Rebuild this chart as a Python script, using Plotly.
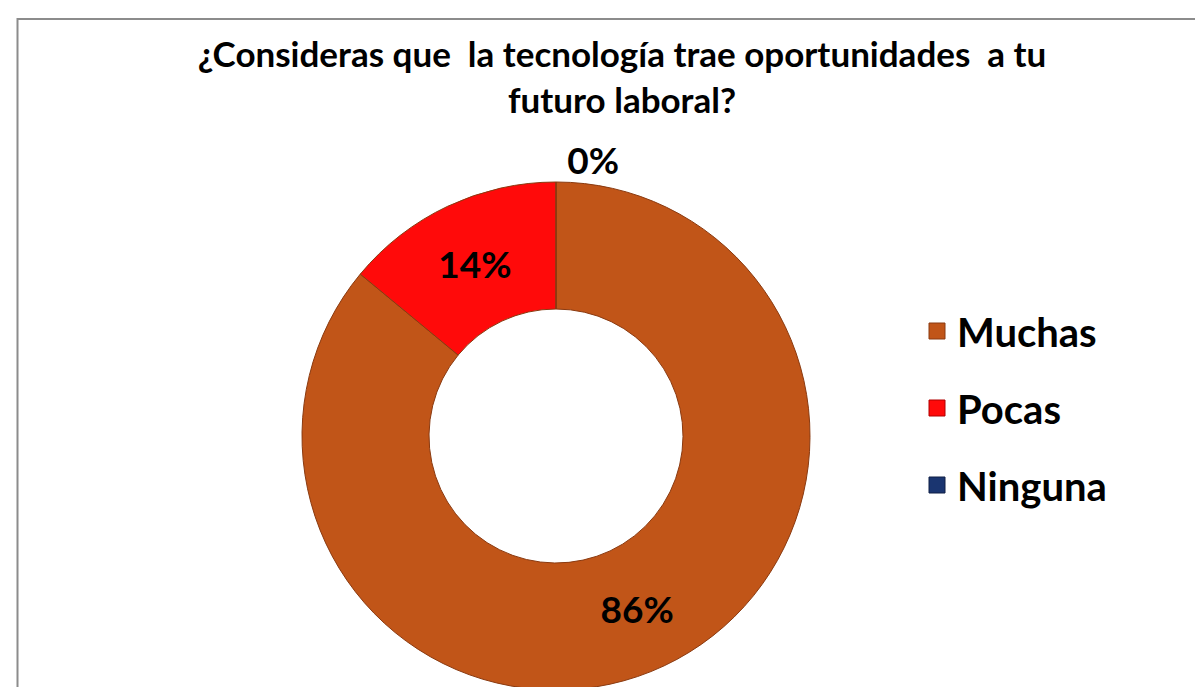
import plotly.graph_objects as go

categories = ["Muchas", "Pocas", "Ninguna"]
values = [86, 14, 0]
colors = ["#C15518", "#FF0A0A", "#1A3570"]
edge_colors = ["#8A3A10", "#B00000", "#0E1F45"]
title_text = "¿Consideras que  la tecnología trae oportunidades  a tu<br>futuro laboral?"

W, H = 1203, 687
cx, cy, r = 548, 428, 254

fig = go.Figure()
fig.add_trace(go.Pie(
    labels=categories,
    values=values,
    hole=0.5,
    sort=False,
    direction="clockwise",
    rotation=0,
    marker=dict(colors=colors, line=dict(color="#8A3A10", width=1)),
    texttemplate="%{percent:.0%}",
    textposition=["inside", "inside", "outside"],
    insidetextorientation="horizontal",
    textfont=dict(family="Lato", size=37, color="black", weight="bold"),
    domain=dict(x=[(cx - r) / W, (cx + r) / W], y=[1 - (cy + r) / H, 1 - (cy - r) / H]),
    showlegend=False,
    hoverinfo="label+percent",
))

for name, col, edge in zip(categories, colors, edge_colors):
    fig.add_trace(go.Scatter(
        x=[None], y=[None], mode="markers", name=name, legendgroup=name,
        marker=dict(symbol="square", size=22, color=col, line=dict(color=edge, width=1)),
        showlegend=True, hoverinfo="skip",
    ))

fig.update_layout(
    width=W, height=H,
    margin=dict(l=0, r=0, t=0, b=0),
    paper_bgcolor="white",
    plot_bgcolor="white",
    xaxis=dict(visible=False),
    yaxis=dict(visible=False),
    title=dict(text=title_text, x=614 / W, xanchor="center", y=1 - 59 / H, yanchor="middle",
               font=dict(family="Lato", size=35, color="black", weight="bold")),
    legend=dict(x=909 / W, xanchor="left", y=1 - 400 / H, yanchor="middle",
                font=dict(family="Lato", size=40, color="black", weight="bold"),
                traceorder="grouped", tracegroupgap=22, itemsizing="trace",
                bgcolor="rgba(0,0,0,0)"),
    shapes=[dict(type="rect", xref="paper", yref="paper", x0=9.5 / W, x1=1.2, y0=-0.2, y1=1 - 11 / H,
                 line=dict(color="#8C8C8C", width=2), fillcolor="rgba(0,0,0,0)", layer="below")],
)

fig.write_html("out.html")
